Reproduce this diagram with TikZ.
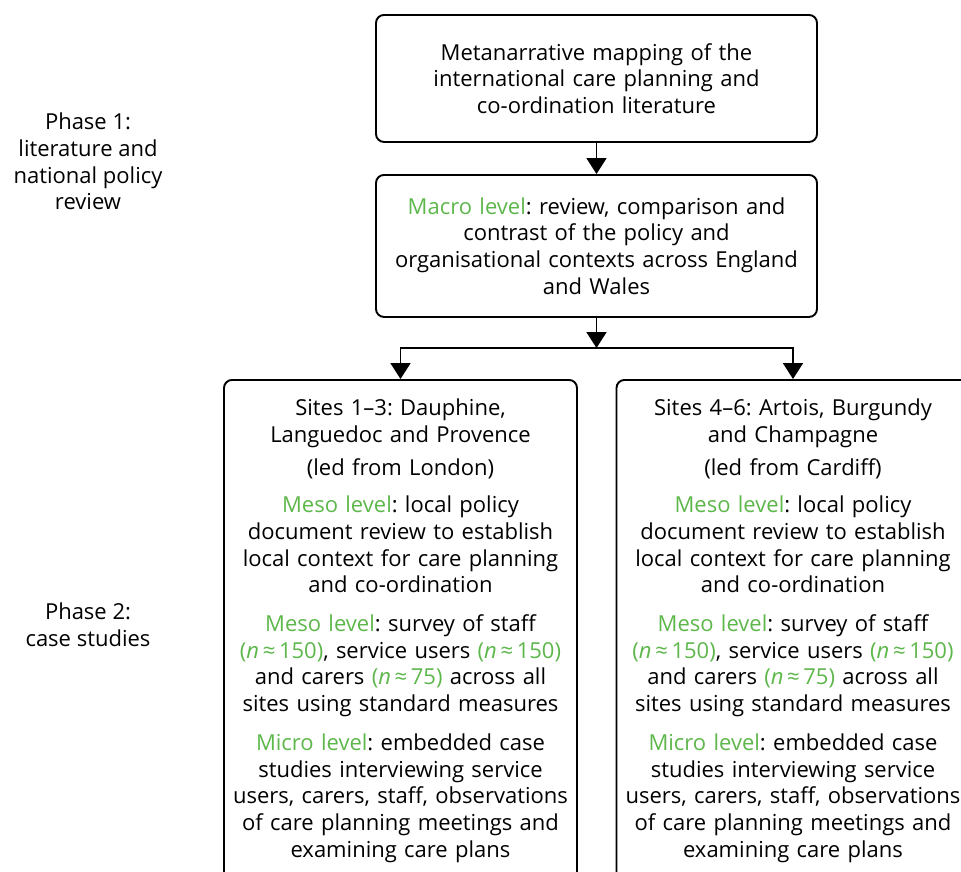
\documentclass[tikz,border=0pt]{standalone}
\usepackage{fontspec}
\setmainfont{Open Sans}
\usetikzlibrary{arrows.meta,positioning}

\definecolor{levelgreen}{RGB}{93,183,75}
\newcommand{\lvl}[1]{\textcolor{levelgreen}{#1}}
\newcommand{\approxn}[1]{\textcolor{levelgreen}{(\textit{n}\,≈\,#1)}}
% the three levels are the same in both case study boxes
\newcommand{\sitelevels}{%
\lvl{Meso level}: local policy\\ document review to establish\\
local context for care planning\\ and co-ordination\\[12pt]
\lvl{Meso level}: survey of staff\\ \approxn{150}, service users \approxn{150}\\
and carers \approxn{75} across all\\ sites using standard measures\\[12pt]
\lvl{Micro level}: embedded case\\ studies interviewing service\\
users, carers, staff, observations\\ of care planning meetings and\\
examining care plans}
\frenchspacing

\begin{document}
\begin{tikzpicture}[x=1pt, y=1pt, font=\fontsize{22}{26.7}\selectfont,
stage/.style={draw, line width=1.9pt, rounded corners=8pt, align=center},
casebox/.style={stage, text width=345pt, minimum width=353pt, inner ysep=19pt,
text depth=560pt, anchor=north},
phase/.style={align=center},
flow/.style={line width=1.9pt, -{Triangle[length=16pt,width=20pt]}}]
\useasboundingbox (0,0) rectangle (961,-871);
\clip (0,0) rectangle (961,-871);

\node [stage, text width=425pt, minimum width=441pt, minimum height=127pt,
anchor=north] (meta) at (596.5,-14)
{Metanarrative mapping of the\\ international care planning and\\
co-ordination literature};
\node [stage, text width=425pt, minimum width=441pt, minimum height=142pt,
anchor=north] (macro) at (596.5,-174)
{\lvl{Macro level}: review, comparison and\\ contrast of the policy and\\
organisational contexts across England\\ and Wales};
\coordinate (split) at (596.5,-348);

\node [casebox] (london) at (400.5,-379)
{Sites 1--3: Dauphine,\\ Languedoc and Provence\\[6pt]
(led from London)\\[11pt] \sitelevels};
\node [casebox] (cardiff) at (793,-379)
{Sites 4--6: Artois, Burgundy\\ and Champagne\\[6pt]
(led from Cardiff)\\[11pt] \sitelevels};

\node [phase] (phase1) at (88,-161.5)
{Phase 1:\\ literature and\\ national policy\\ review};
\node [phase] (phase2) at (88,-625) {Phase 2:\\ case studies};

\draw [flow] (meta) -- (macro);
\draw [flow] (macro) -- (split);
\draw [flow, {Triangle[length=16pt,width=20pt]}-{Triangle[length=16pt,width=20pt]}]
(london.north) |- (split) -| (cardiff.north);
\end{tikzpicture}
\end{document}
